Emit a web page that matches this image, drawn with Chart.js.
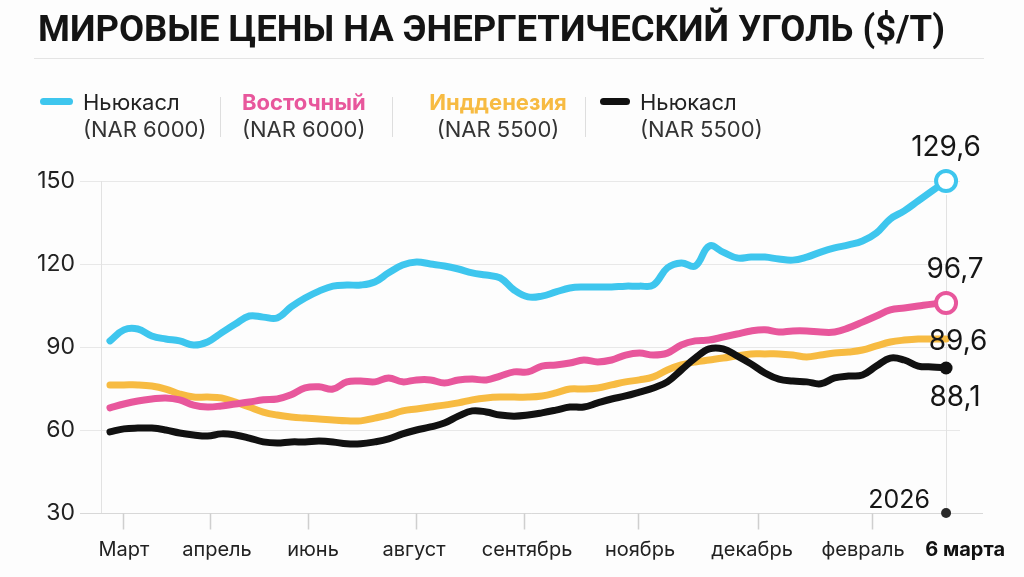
<!DOCTYPE html>
<html>
<head>
<meta charset="utf-8">
<script src="https://cdn.jsdelivr.net/npm/chart.js@4/dist/chart.umd.min.js"></script>
<style>
  html, body { margin:0; padding:0; background:#fdfdfd; }
  #wrap { position:relative; width:1024px; height:577px; overflow:hidden; font-family:Inter, "Noto Sans", sans-serif; color:#1a1a1a; }
  #c { position:absolute; left:0; top:0; }
  #title { position:absolute; left:38px; top:10px; font:700 37px/37px "Liberation Sans Narrow", Roboto, sans-serif; color:#141414; white-space:nowrap; transform-origin:left top; }
  #rule { position:absolute; left:34px; top:58px; width:950px; height:1px; background:#e4e4e4; }
  .lg { position:absolute; font-size:22px; line-height:26px; white-space:nowrap; color:#222; }
  .sub { color:#333; }
  .sw { position:absolute; height:7px; border-radius:4px; }
  .sep { position:absolute; width:1px; background:#dedede; top:97px; height:40px; }
</style>
</head>
<body>
<div id="wrap">
  <canvas id="c" width="1024" height="577"></canvas>
  <div id="title">МИРОВЫЕ ЦЕНЫ НА ЭНЕРГЕТИЧЕСКИЙ УГОЛЬ ($/Т)</div>
  <div id="rule"></div>
  <div id="legend"></div>
</div>
<script>
// ---- data ----
const seriesNames = ['Ньюкасл', 'Восточный', 'Индденезия', 'Ньюкасл'];
const seriesGrades = ['(NAR 6000)', '(NAR 6000)', '(NAR 5500)', '(NAR 5500)'];
const seriesColors = ['#3ec6ee', '#e8579c', '#f7bb42', '#111111'];
const endLabels = ['129,6', '96,7', '89,6', '88,1'];
const yearLabel = '2026';

const newcastle6000 = [92.2,96.2,96.5,94,92.9,92.2,90.7,91.8,95.1,98.3,101.2,100.8,100.5,104.5,107.7,110.2,112,112.4,112.4,113.5,116.8,119.6,120.7,120,119.3,118.2,116.8,116,115,110.6,108.1,108.4,109.9,111.3,111.7,111.7,111.7,112,112,112.4,118.6,120.4,119.3,126.5,124.3,122.2,122.5,122.5,121.8,121.4,122.5,124.3,125.8,126.9,128.3,131.2,136.3,139.2,142.8,146.4,150];
const eastern6000 = [68,69.4,70.5,71.2,71.6,70.9,69,68.3,68.7,69.4,70.1,70.9,71.2,72.7,75.2,75.6,74.8,77.4,77.7,77.4,78.8,77.4,78.1,78.1,77,78.1,78.4,78.1,79.5,81,81,83.1,83.5,84.2,85.3,84.6,85.3,87.1,87.8,87.1,87.8,90.7,92.2,92.5,93.6,94.7,95.8,96.2,95.4,95.8,95.8,95.4,95.4,96.9,99,101.2,103.4,104.1,104.8,105.5,105.9];
const indonesia5500 = [76.3,76.3,76.3,75.9,74.8,73,71.9,71.9,71.6,70.1,68.3,66.5,65.4,64.7,64.3,64,63.6,63.3,63.3,64.3,65.4,66.9,67.6,68.3,69,69.8,70.9,71.6,71.9,71.9,71.9,72.3,73.4,74.8,74.8,75.2,76.3,77.4,78.1,79.2,81.7,83.5,84.6,85.3,86,86.8,87.5,87.5,87.5,87.1,86.4,87.1,87.8,88.2,88.9,90.4,91.8,92.5,92.9,92.9,92.9];
const newcastle5500 = [59.3,60.4,60.7,60.7,60,58.9,58.2,57.8,58.6,58.2,57.1,55.7,55.3,55.7,55.7,56,55.7,55,55,55.7,56.8,58.6,60,61.1,62.5,65,66.9,66.5,65.4,65,65.4,66.2,67.2,68.3,68.3,69.8,71.2,72.3,73.7,75.2,77.4,81.7,86,89.3,89.3,86.8,83.9,80.6,78.4,77.7,77.4,76.7,78.8,79.5,79.9,83.1,86,85.3,83.1,82.8,82.4];

const yTicks = [30, 60, 90, 120, 150];
const xTickLabels = ['Март','апрель','июнь','август','сентябрь','ноябрь','декабрь','февраль','6 марта'];
const xLabelAt = [1.0, 7.68, 14.57, 21.82, 29.93, 38.04, 46.08, 54.04, 61.37];
const xTickAt = [0.93, 7.18, 14.21, 21.96, 29.71, 37.9, 46.51, 54.69];
const xMin = -2.15, xMax = 61.0, yAxisAt = -0.65;

// ---- title / legend ----
(function(){
  const t = document.getElementById('title');
  const w = t.getBoundingClientRect().width;
  t.style.transform = 'scaleX(' + (907 / w) + ')';
  const lg = document.getElementById('legend');
  const items = [
    {sw:[40,33], x:83, align:'left', bold:false},
    {sw:null, x:242, align:'left', bold:true},
    {sw:null, x:498, align:'center', bold:true},
    {sw:[600,30], x:640, align:'left', bold:false}
  ];
  const seps = [220, 392, 585];
  items.forEach((it, i) => {
    if (it.sw) {
      const s = document.createElement('div');
      s.className = 'sw';
      s.style.left = it.sw[0] + 'px'; s.style.top = '98px';
      s.style.width = it.sw[1] + 'px'; s.style.background = seriesColors[i];
      lg.appendChild(s);
    }
    const a = document.createElement('div');
    a.className = 'lg'; a.textContent = seriesNames[i];
    a.style.top = '89px';
    const b = document.createElement('div');
    b.className = 'lg sub'; b.textContent = seriesGrades[i];
    b.style.top = '116px';
    if (it.bold) { a.style.fontWeight = '700'; a.style.color = seriesColors[i]; }
    [a, b].forEach(el => {
      lg.appendChild(el);
      if (it.align === 'center') {
        const ww = el.getBoundingClientRect().width;
        el.style.left = (it.x - ww / 2) + 'px';
      } else el.style.left = it.x + 'px';
    });
  });
  seps.forEach(x => {
    const s = document.createElement('div');
    s.className = 'sep'; s.style.left = x + 'px';
    lg.appendChild(s);
  });
})();

// ---- chart ----
const allSeries = [newcastle6000, eastern6000, indonesia5500, newcastle5500];
const toXY = arr => arr.map((v, i) => ({x: i, y: v}));
const last = newcastle6000.length - 1;

const markerStyle = [
  {r: 10, fill: '#ffffff', bw: 4},
  {r: 10, fill: '#ffffff', bw: 4},
  {r: 0, fill: seriesColors[2], bw: 0},
  {r: 6.5, fill: seriesColors[3], bw: 0}
];

function lineDs(idx) {
  const m = markerStyle[idx];
  return {
    data: toXY(allSeries[idx]),
    borderColor: seriesColors[idx],
    borderWidth: 7,
    borderCapStyle: 'round',
    borderJoinStyle: 'round',
    tension: 0.4,
    fill: false,
    clip: false,
    pointRadius: ctx => ctx.dataIndex === last ? m.r : 0,
    pointBackgroundColor: m.fill,
    pointBorderColor: seriesColors[idx],
    pointBorderWidth: m.bw,
    pointHoverRadius: 0
  };
}

const datasets = [
  { // 2026 dot on the axis
    data: [{x: last, y: yTicks[0]}],
    showLine: false,
    pointRadius: 5,
    pointBackgroundColor: '#2a2a2a',
    pointBorderWidth: 0,
    clip: false
  },
  lineDs(3), lineDs(1), lineDs(2), lineDs(0)
];
const endOrder = [4, 2, 3, 1]; // dataset index for each series in seriesNames order
const labelOffsets = [[0, -33], [9, -33], [12, 3], [9, 30]];

const overlay = {
  id: 'overlay',
  beforeDatasetsDraw(chart) {
    const ctx = chart.ctx, xs = chart.scales.x, ys = chart.scales.y;
    ctx.save();
    ctx.strokeStyle = '#e2e2e2'; ctx.lineWidth = 1;
    // y axis line
    const ax = Math.round(xs.getPixelForValue(yAxisAt)) + 0.5;
    ctx.beginPath(); ctx.moveTo(ax, ys.getPixelForValue(150)); ctx.lineTo(ax, ys.getPixelForValue(30)); ctx.stroke();
    // end vertical line
    const ex = Math.round(xs.getPixelForValue(last)) + 0.5;
    ctx.beginPath(); ctx.moveTo(ex, ys.getPixelForValue(145)); ctx.lineTo(ex, ys.getPixelForValue(30)); ctx.stroke();
    // baseline extension
    const by = Math.round(ys.getPixelForValue(30)) + 0.5;
    ctx.strokeStyle = '#d8d8d8';
    ctx.beginPath(); ctx.moveTo(chart.chartArea.left, by); ctx.lineTo(chart.chartArea.right + 23, by); ctx.stroke();
    // tick marks
    ctx.strokeStyle = '#cfcfcf'; ctx.lineWidth = 1.5;
    xTickAt.forEach(v => {
      const px = Math.round(xs.getPixelForValue(v)) + 0.5;
      ctx.beginPath(); ctx.moveTo(px, by); ctx.lineTo(px, by + 16); ctx.stroke();
    });
    ctx.restore();
  },
  afterDatasetsDraw(chart) {
    const ctx = chart.ctx, xs = chart.scales.x, ys = chart.scales.y;
    ctx.save();
    // x labels
    ctx.textAlign = 'center'; ctx.textBaseline = 'middle';
    xTickLabels.forEach((t, i) => {
      const boldLast = i === xTickLabels.length - 1;
      ctx.font = (boldLast ? '700 ' : '400 ') + '20px Inter';
      ctx.fillStyle = boldLast ? '#111' : '#222';
      ctx.fillText(t, xs.getPixelForValue(xLabelAt[i]), ys.getPixelForValue(30) + 37);
    });
    // end value labels
    ctx.font = '400 28px Inter';
    ctx.fillStyle = '#161616';
    endLabels.forEach((t, i) => {
      const meta = chart.getDatasetMeta(endOrder[i]);
      const p = meta.data[last];
      ctx.fillText(t, p.x + labelOffsets[i][0], p.y + labelOffsets[i][1]);
    });
    // year label
    const yp = chart.getDatasetMeta(0).data[0];
    ctx.font = '400 25px Inter';
    ctx.textAlign = 'right';
    ctx.fillText(yearLabel, yp.x - 16, yp.y - 13);
    ctx.restore();
  }
};

new Chart(document.getElementById('c'), {
  type: 'line',
  data: { datasets },
  options: {
    responsive: false,
    animation: false,
    events: [],
    layout: { padding: { left: 0, right: 64, top: 181, bottom: 64 } },
    plugins: { legend: { display: false }, tooltip: { enabled: false }, title: { display: false } },
    scales: {
      x: { type: 'linear', min: xMin, max: xMax, display: false },
      y: {
        min: yTicks[0], max: yTicks[yTicks.length - 1],
        afterBuildTicks: s => { s.ticks = yTicks.map(v => ({value: v})); },
        afterFit: s => { s.width = 80; },
        ticks: { padding: 5, color: '#222', font: { family: 'Inter', size: 23 } },
        grid: { color: '#e8e8e8', drawTicks: false, lineWidth: 1 },
        border: { display: false }
      }
    }
  },
  plugins: [overlay]
});
</script>
</body>
</html>
